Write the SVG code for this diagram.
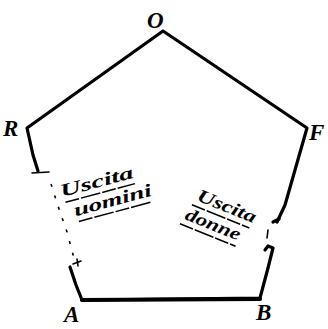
<svg xmlns="http://www.w3.org/2000/svg" width="328" height="329" viewBox="0 0 328 329">
<style>
.wall{fill:none;stroke:#000;stroke-width:3.2;stroke-linejoin:round;stroke-linecap:round}
.thin{fill:none;stroke:#000;stroke-width:1.6;stroke-linecap:round}
.dash{fill:none;stroke:#000;stroke-width:1.6;stroke-dasharray:3 9}
.lbl{font-family:"Liberation Serif",serif;font-style:italic;font-weight:bold;font-size:23px;fill:#000}
.hand{font-family:"Liberation Serif",serif;font-style:italic;font-weight:bold;font-size:18px;fill:#000}
.ul{fill:none;stroke:#000;stroke-width:1.5;stroke-dasharray:14 2 20 2}
</style>
<rect width="328" height="329" fill="#fff"/>
<g id="walls">
<polyline class="wall" points="38,171 33,155 27,128 163,31 307,128 285,205 277,222"/>
<polyline class="wall" points="273,222 279,219"/>
<line class="thin" x1="32" y1="173" x2="49" y2="172"/>
<polyline class="dash" points="51,184 58,206 67,232 75,262"/>
<line class="thin" x1="268" y1="230" x2="267" y2="238"/>
<polyline class="wall" points="265,250 268,246 273,248 268,268 260,298 82,300 76,285 70,267"/>
<line class="wall" x1="82" y1="300" x2="260" y2="299" style="stroke-width:4.2"/>
<line class="thin" x1="73" y1="264" x2="81" y2="261"/>
<line class="thin" x1="77" y1="259" x2="78" y2="266"/>
</g>
<g id="label-O"><text class="lbl" x="147" y="28">O</text></g>
<g id="label-R"><text class="lbl" x="3" y="136">R</text></g>
<g id="label-F"><text class="lbl" x="309" y="140">F</text></g>
<g id="label-A"><text class="lbl" x="64" y="322">A</text></g>
<g id="label-B"><text class="lbl" x="256" y="320">B</text></g>
<g id="exit-men" transform="translate(62,197) rotate(-15)">
<text class="hand" x="0" y="0" textLength="75" lengthAdjust="spacingAndGlyphs">Uscita</text>
<line class="ul" x1="2" y1="6" x2="74" y2="6"/>
<text class="hand" x="8" y="22" textLength="80" lengthAdjust="spacingAndGlyphs">uomini</text>
<line class="ul" x1="10" y1="28" x2="86" y2="28"/>
</g>
<g id="exit-women" transform="translate(196,200) rotate(22)">
<text class="hand" x="0" y="0" textLength="62" lengthAdjust="spacingAndGlyphs">Uscita</text>
<line class="ul" x1="-2" y1="6" x2="60" y2="6"/>
<text class="hand" x="-4" y="22" textLength="58" lengthAdjust="spacingAndGlyphs">donne</text>
<line class="ul" x1="-6" y1="28" x2="54" y2="28"/>
</g>
</svg>
